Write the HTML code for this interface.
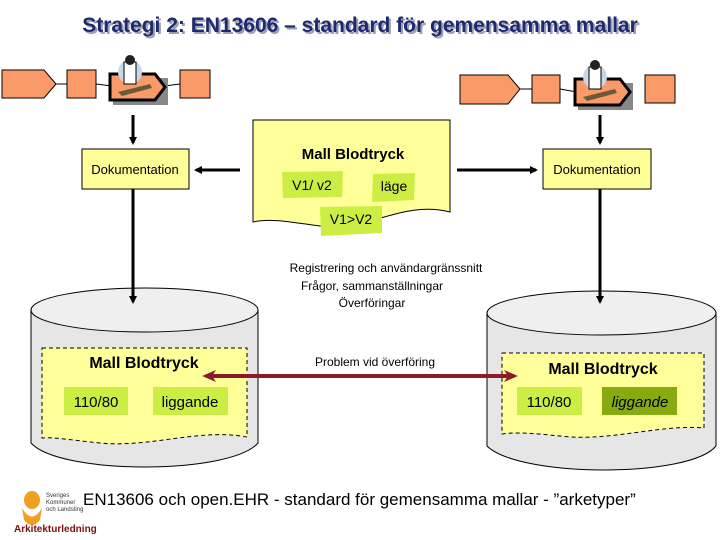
<!DOCTYPE html>
<html><head><meta charset="utf-8"><style>
html,body{margin:0;padding:0;background:#fff}
svg{display:block;font-family:"Liberation Sans",sans-serif}
</style></head><body>
<svg width="720" height="540" viewBox="0 0 720 540" xmlns="http://www.w3.org/2000/svg">
<defs>
<marker id="ah" markerWidth="8" markerHeight="8" refX="6" refY="4" orient="auto" markerUnits="userSpaceOnUse"><path d="M0,0 L8,4 L0,8 Z" fill="#000"/></marker>
<marker id="rh" markerWidth="14" markerHeight="12" refX="10" refY="6" orient="auto-start-reverse" markerUnits="userSpaceOnUse"><path d="M0,0 L14,6 L0,12 L4,6 Z" fill="#8b1a2a"/></marker>
</defs>
<text x="362" y="34" text-anchor="middle" font-size="21" font-weight="bold" fill="#9aa0b8">Strategi 2: EN13606 – standard för gemensamma mallar</text>
<text x="360" y="32" text-anchor="middle" font-size="21" font-weight="bold" fill="#1f2a6e">Strategi 2: EN13606 – standard för gemensamma mallar</text>

<g stroke="#000" stroke-width="1">
<line x1="50" y1="84" x2="68" y2="84"/><line x1="96" y1="84" x2="112" y2="86"/><line x1="164" y1="86" x2="180" y2="84"/>
<polygon points="2,70 44,70 56,84 44,98 2,98" fill="#fa9a68"/>
<rect x="67" y="70" width="29" height="28" fill="#fa9a68"/>
<rect x="180" y="70" width="30" height="28" fill="#fa9a68"/>
<line x1="518" y1="89" x2="533" y2="89"/><line x1="560" y1="89" x2="577" y2="92"/>
<polygon points="460,75 508,75 520,89 508,104 460,104" fill="#fa9a68"/>
<rect x="532" y="75" width="28" height="28" fill="#fa9a68"/>
<rect x="645" y="75" width="30" height="28" fill="#fa9a68"/>
</g>
<g>
<rect x="113" y="78" width="55" height="27" fill="#888"/>
<polygon points="110,74 155,74 165,87 155,100 110,100" fill="#fa9a68" stroke="#000" stroke-width="3"/>
<circle cx="130" cy="72" r="12" fill="#c8d8e8"/>
<rect x="124" y="62" width="12" height="22" fill="#fff" stroke="#000"/>
<circle cx="130" cy="60" r="5" fill="#222"/>
<path d="M118,92 L150,84 L152,88 L122,96Z" fill="#6b5a3a"/>
<rect x="578" y="83" width="55" height="27" fill="#888"/>
<polygon points="575,79 620,79 630,92 620,105 575,105" fill="#fa9a68" stroke="#000" stroke-width="3"/>
<circle cx="595" cy="77" r="12" fill="#c8d8e8"/>
<rect x="589" y="67" width="12" height="22" fill="#fff" stroke="#000"/>
<circle cx="595" cy="65" r="5" fill="#222"/>
<path d="M583,97 L615,89 L617,93 L587,101Z" fill="#6b5a3a"/>
</g>

<!-- cylinders -->
<g fill="#e6e6e6" stroke="#000">
<path d="M31,310 L31,443 C60,475 230,475 258,443 L258,310 Z"/>
<ellipse cx="144.5" cy="310" rx="113.5" ry="22" fill="#efefef"/>
<path d="M487,313 L487,446 C520,478 690,478 716,446 L716,313 Z"/>
<ellipse cx="601.5" cy="313" rx="114.5" ry="22" fill="#efefef"/>
</g>

<g stroke="#000" stroke-width="3" fill="none">
<line x1="133" y1="115" x2="133" y2="143" marker-end="url(#ah)"/>
<line x1="600" y1="115" x2="600" y2="143" marker-end="url(#ah)"/>
<line x1="240" y1="170" x2="196" y2="170" marker-end="url(#ah)"/>
<line x1="457" y1="170" x2="536" y2="170" marker-end="url(#ah)"/>
<line x1="133" y1="189" x2="133" y2="302" marker-end="url(#ah)"/>
<line x1="600" y1="189" x2="600" y2="302" marker-end="url(#ah)"/>
</g>
<rect x="82" y="149" width="107" height="40" fill="#ffff99" stroke="#000"/>
<text x="135" y="174" text-anchor="middle" font-size="13">Dokumentation</text>
<rect x="543" y="149" width="108" height="40" fill="#ffff99" stroke="#000"/>
<text x="597" y="174" text-anchor="middle" font-size="13">Dokumentation</text>

<path d="M253,120 L450,120 L450,212 C400,200 370,232 320,226 C290,222 270,218 253,222 Z" fill="#ffff99" stroke="#000"/>
<text x="353" y="159" text-anchor="middle" font-size="15" font-weight="bold">Mall Blodtryck</text>
<path d="M282,172 L343,171 L342,197 L283,198Z" fill="#ccee44"/>
<text x="312" y="190" text-anchor="middle" font-size="14">V1/ v2</text>
<path d="M373,174 L415,173 L414,200 L372,202Z" fill="#ccee44"/>
<text x="394" y="191" text-anchor="middle" font-size="14">läge</text>
<path d="M320,207 L382,206 L382,233 L321,236Z" fill="#ccee44"/>
<text x="351" y="224" text-anchor="middle" font-size="14">V1&gt;V2</text>

<g font-size="12" text-anchor="middle">
<text x="386" y="272">Registrering och användargränssnitt</text>
<text x="372" y="290">Frågor, sammanställningar</text>
<text x="372" y="307">Överföringar</text>
</g>

<path d="M42,348 L247,348 L247,437 C200,428 150,448 100,443 C70,440 55,437 42,438 Z" fill="#ffff99" stroke="#000" stroke-dasharray="4,3"/>
<path d="M502,353 L704,353 L704,428 C660,424 610,442 560,436 C530,433 515,432 502,434 Z" fill="#ffff99" stroke="#000" stroke-dasharray="4,3"/>
<text x="144" y="368" text-anchor="middle" font-size="16" font-weight="bold">Mall Blodtryck</text>
<text x="603" y="374" text-anchor="middle" font-size="16" font-weight="bold">Mall Blodtryck</text>
<rect x="64" y="387" width="64" height="28" fill="#ccee44"/>
<text x="96" y="407" text-anchor="middle" font-size="15">110/80</text>
<rect x="153" y="387" width="75" height="28" fill="#ccee44"/>
<text x="190" y="407" text-anchor="middle" font-size="15">liggande</text>
<rect x="517" y="387" width="65" height="28" fill="#ccee44"/>
<text x="549" y="407" text-anchor="middle" font-size="15">110/80</text>
<rect x="602" y="387" width="75" height="28" fill="#88aa11"/>
<text x="640" y="407" text-anchor="middle" font-size="15" font-style="italic">liggande</text>

<line x1="206" y1="376" x2="514" y2="376" stroke="#8b1a2a" stroke-width="4" marker-start="url(#rh)" marker-end="url(#rh)"/>
<text x="375" y="366" text-anchor="middle" font-size="12">Problem vid överföring</text>

<ellipse cx="32" cy="500" rx="8" ry="9" fill="#f0a020"/>
<path d="M22,508 Q32,525 42,508 L40,520 Q32,530 24,520Z" fill="#f0a020"/>
<g font-size="6" fill="#333"><text x="46" y="497">Sveriges</text><text x="46" y="504">Kommuner</text><text x="46" y="511">och Landsting</text></g>
<text x="14" y="532" font-size="10" font-weight="bold" fill="#7a1010">Arkitekturledning</text>
<text x="83" y="505" font-size="17">EN13606 och open.EHR - standard för gemensamma mallar  - ”arketyper”</text>
</svg>
</body></html>
